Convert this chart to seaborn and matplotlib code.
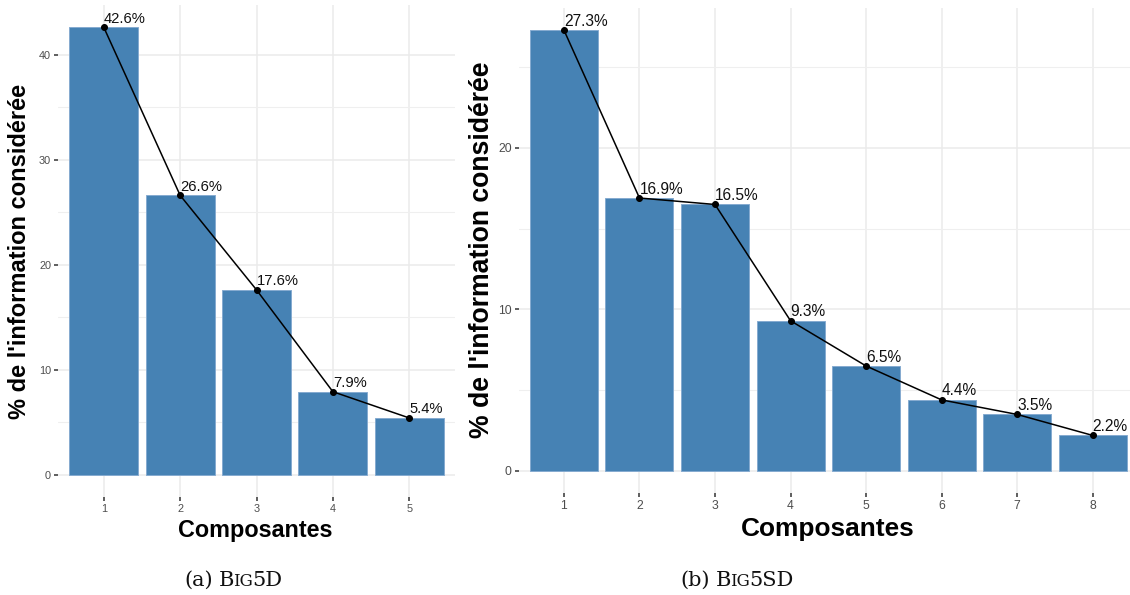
import matplotlib
matplotlib.use("Agg")
import matplotlib.pyplot as plt
from matplotlib.ticker import MultipleLocator
import seaborn as sns
import pandas as pd

# Explained variance per principal component
components_a = ["1", "2", "3", "4", "5"]
share_a = [42.6, 26.6, 17.6, 7.9, 5.4]

components_b = ["1", "2", "3", "4", "5", "6", "7", "8"]
share_b = [27.3, 16.9, 16.5, 9.3, 6.5, 4.4, 3.5, 2.2]

x_title = "Composantes"
y_title = "% de l'information considérée"

W, H = 1130, 595
BAR = "#4682B4"

sns.set_theme(style="white")
plt.rcParams["font.family"] = ["Liberation Sans", "DejaVu Sans"]
plt.rcParams["text.color"] = "black"

fig = plt.figure(figsize=(W / 100, H / 100), dpi=100)


def px_axes(x0, x1, y_top, y_bot):
    return fig.add_axes([x0 / W, 1 - y_bot / H, (x1 - x0) / W, (y_bot - y_top) / H])


def scree(ax, comps, vals, step_minor, tick_size, label_size):
    df = pd.DataFrame({"comp": comps, "share": vals})
    sns.barplot(data=df, x="comp", y="share", color=BAR, saturation=1,
                width=0.9, edgecolor="#86ABD0", linewidth=0.7, ax=ax)
    sns.pointplot(data=df, x="comp", y="share", color="black", errorbar=None,
                  markersize=4.2, linewidth=1.1, ax=ax)
    for i, v in enumerate(vals):
        ax.annotate(f"{v}%", (i, v), xytext=(0, 3.2), textcoords="offset points",
                    ha="left", va="baseline", fontsize=label_size, color="#111111",
                    zorder=5)
    n = len(vals)
    top = max(vals)
    ax.set_xlim(-0.6, n - 0.4)
    ax.set_ylim(-0.05 * top, 1.05 * top)
    ax.yaxis.set_major_locator(MultipleLocator(10))
    ax.yaxis.set_minor_locator(MultipleLocator(step_minor))
    ax.set_axisbelow(True)
    ax.grid(which="major", axis="both", color="#EBEBEB", linewidth=1.1)
    ax.grid(which="minor", axis="y", color="#EFEFEF", linewidth=0.8)
    ax.grid(which="minor", axis="x", visible=False)
    for sp in ax.spines.values():
        sp.set_visible(False)
    ax.tick_params(axis="both", which="major", length=3, width=1.1,
                   color="#333333", labelcolor="#4D4D4D",
                   labelsize=tick_size, pad=2, bottom=True, left=True)
    ax.tick_params(axis="both", which="minor", length=0)
    ax.set_xlabel("")
    ax.set_ylabel("")


# Left panel: Big5D
ax_a = px_axes(58, 455, 5, 497)
scree(ax_a, components_a, share_a, 5, 7.8, 10.6)
fig.text(255 / W, 1 - 530 / H, x_title, ha="center", va="center",
         fontsize=16.8, fontweight="bold", color="black")
fig.text(20 / W, 1 - 251 / H, y_title, ha="center", va="center",
         rotation=90, fontsize=17, fontweight="bold", color="black")

# Right panel: Big5SD (extends past the right border)
ax_b = px_axes(518.6, 1138, 8, 493)
scree(ax_b, components_b, share_b, 5, 8.7, 11.2)
fig.text(828 / W, 1 - 529 / H, x_title, ha="center", va="center",
         fontsize=18.9, fontweight="bold", color="black")
fig.text(482 / W, 1 - 250 / H, y_title, ha="center", va="center",
         rotation=90, fontsize=19.2, fontweight="bold", color="black")


# Sub-figure captions with small caps
def caption(cx, baseline, pieces, size=15):
    renderer = fig.canvas.get_renderer()
    items = []
    total = 0.0
    for txt, rel, gap in pieces:
        t = fig.text(0, 0, txt, fontsize=size * rel, family=["DejaVu Serif"],
                     va="baseline", ha="left", color="#111111")
        w = t.get_window_extent(renderer).width + gap
        items.append((t, w))
        total += w
    x = cx - total / 2
    for t, w in items:
        t.set_position((x / W, 1 - baseline / H))
        x += w


caption(233, 586, [("(a)", 1.0, 6), ("B", 1.0, -1), ("IG", 0.8, -1), ("5D", 1.0, 0)])
caption(737, 586, [("(b)", 1.0, 6), ("B", 1.0, -1), ("IG", 0.8, -1), ("5SD", 1.0, 0)])

fig.savefig("out.png", dpi=100, facecolor="white")
